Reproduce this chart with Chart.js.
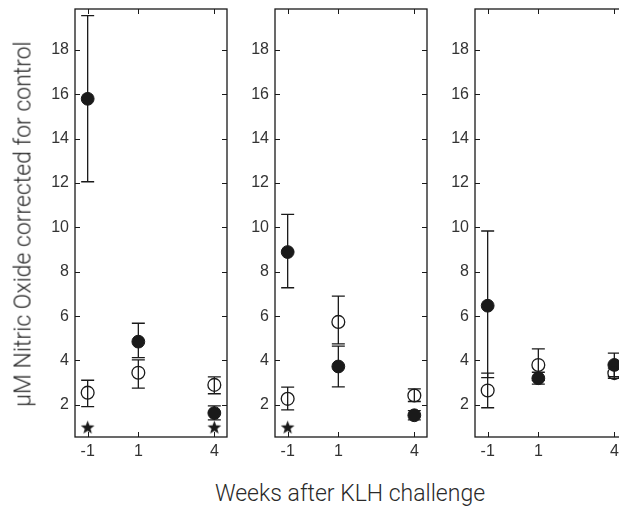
<!DOCTYPE html>
<html>
<head>
<meta charset="utf-8">
<script src="https://cdn.jsdelivr.net/npm/chart.js@4.4.1/dist/chart.umd.min.js"></script>
<style>
  html, body { margin:0; padding:0; width:619px; height:506px; overflow:hidden; background:#fff; }
  canvas { position:absolute; top:0; }
  .title { position:absolute; font-family:'Roboto','Liberation Sans',Arial,sans-serif; font-weight:300; font-size:23px; line-height:23px; color:#2a2a2a; white-space:nowrap; }
  #xtitle { left:350px; top:482px; transform:translateX(-50%); }
  #ytitle { left:23px; top:224px; transform:translate(-50%,-50%) rotate(-90deg); }
</style>
</head>
<body>
<canvas id="c1" width="212" height="470" style="left:30px"></canvas>
<canvas id="c2" width="212" height="470" style="left:230px"></canvas>
<canvas id="c3" width="212" height="470" style="left:430px"></canvas>
<div class="title" id="ytitle">µM Nitric Oxide corrected for control</div>
<div class="title" id="xtitle">Weeks after KLH challenge</div>
<script>
// ---- data ----
const weeks = [-1, 1, 4];
const xTicks = [-1, 1, 4];
const yTicks = [2, 4, 6, 8, 10, 12, 14, 16, 18];

// panel 1
const filled1   = [15.8, 4.85, 1.63];
const filled1Hi = [19.55, 5.68, 1.95];
const filled1Lo = [12.06, 4.13, 1.32];
const open1     = [2.55, 3.45, 2.9];
const open1Hi   = [3.11, 4.03, 3.26];
const open1Lo   = [1.92, 2.75, 2.5];
const star1     = [1.0, null, 1.0];

// panel 2
const filled2   = [8.89, 3.73, 1.53];
const filled2Hi = [10.59, 4.65, 1.74];
const filled2Lo = [7.28, 2.81, 1.32];
const open2     = [2.27, 5.74, 2.42];
const open2Hi   = [2.8, 6.9, 2.72];
const open2Lo   = [1.77, 4.75, 2.15];
const star2     = [1.0, null, null];

// panel 3
const filled3   = [6.47, 3.2, 3.8];
const filled3Hi = [9.84, 3.47, 4.33];
const filled3Lo = [3.23, 2.93, 3.27];
const open3     = [2.65, 3.8, 3.43];
const open3Hi   = [3.43, 4.52, 3.66];
const open3Lo   = [1.87, 3.1, 3.2];
const star3     = [null, null, null];

// ---- rendering ----
const INK = '#1a1a1a';
Chart.defaults.font.family = "'Liberation Sans', Arial, sans-serif";
Chart.defaults.font.size = 16;
Chart.defaults.color = '#333';

function makeStar(r) {
  const s = Math.ceil(r * 2 + 2);
  const c = document.createElement('canvas');
  c.width = s; c.height = s;
  const ctx = c.getContext('2d');
  ctx.translate(s / 2, s / 2 + r * 0.1);
  ctx.beginPath();
  for (let i = 0; i < 10; i++) {
    const rad = i % 2 ? r * 0.42 : r;
    const a = -Math.PI / 2 + i * Math.PI / 5;
    ctx.lineTo(rad * Math.cos(a), rad * Math.sin(a));
  }
  ctx.closePath();
  ctx.fillStyle = INK;
  ctx.fill();
  return c;
}
const starImg = makeStar(7.2);

const pts = arr => weeks.map((w, i) => ({ x: w, y: arr[i] })).filter(p => p.y !== null);

const framePlugin = {
  id: 'frameErr',
  beforeDatasetsDraw(chart) {
    const ctx = chart.ctx, xs = chart.scales.x, ys = chart.scales.y;
    ctx.save();
    ctx.strokeStyle = INK;
    ctx.lineWidth = 1.3;
    chart.data.datasets.forEach(ds => {
      if (!ds.errHi) return;
      weeks.forEach((w, i) => {
        const hi = ds.errHi[i], lo = ds.errLo[i];
        if (hi == null) return;
        const px = xs.getPixelForValue(w);
        const ph = ys.getPixelForValue(hi), pl = ys.getPixelForValue(lo);
        ctx.beginPath();
        ctx.moveTo(px, ph); ctx.lineTo(px, pl);
        ctx.moveTo(px - 6.5, ph); ctx.lineTo(px + 6.5, ph);
        ctx.moveTo(px - 6.5, pl); ctx.lineTo(px + 6.5, pl);
        ctx.stroke();
      });
    });
    ctx.restore();
  },
  afterDraw(chart) {
    const ctx = chart.ctx, a = chart.chartArea, xs = chart.scales.x, ys = chart.scales.y;
    ctx.save();
    ctx.strokeStyle = INK;
    ctx.lineWidth = 1.3;
    ctx.strokeRect(a.left, a.top, a.right - a.left, a.bottom - a.top);
    ctx.lineWidth = 1;
    ctx.beginPath();
    xs.ticks.forEach(t => {
      const px = Math.round(xs.getPixelForValue(t.value)) + 0.5;
      ctx.moveTo(px, a.bottom); ctx.lineTo(px, a.bottom - 5);
      ctx.moveTo(px, a.top); ctx.lineTo(px, a.top + 5);
    });
    ys.ticks.forEach(t => {
      const py = Math.round(ys.getPixelForValue(t.value)) + 0.5;
      ctx.moveTo(a.left, py); ctx.lineTo(a.left + 5, py);
      ctx.moveTo(a.right, py); ctx.lineTo(a.right - 5, py);
    });
    ctx.stroke();
    ctx.restore();
  }
};

function noPad(s) { s.paddingTop = 0; s.paddingBottom = 0; s.paddingLeft = 0; s.paddingRight = 0; }

function makePanel(id, filled, fHi, fLo, open, oHi, oLo, star) {
  new Chart(document.getElementById(id), {
    type: 'scatter',
    data: {
      datasets: [
        { label: 'open', data: pts(open), errHi: oHi, errLo: oLo,
          pointStyle: 'circle', pointRadius: 6.4, pointBorderWidth: 1.3,
          pointBackgroundColor: 'rgba(0,0,0,0)', pointBorderColor: INK },
        { label: 'filled', data: pts(filled), errHi: fHi, errLo: fLo,
          pointStyle: 'circle', pointRadius: 6.4, pointBorderWidth: 1,
          pointBackgroundColor: INK, pointBorderColor: INK },
        { label: 'star', data: pts(star),
          pointStyle: starImg, pointRadius: 7 }
      ]
    },
    options: {
      responsive: false,
      animation: false,
      devicePixelRatio: 1,
      layout: { padding: { left: 0, top: 9, right: 15, bottom: 0 } },
      plugins: { legend: { display: false }, tooltip: { enabled: false } },
      scales: {
        x: {
          type: 'linear', min: -1.5, max: 4.5,
          afterBuildTicks: s => { s.ticks = xTicks.map(v => ({ value: v })); },
          afterFit: s => { s.height = 33; noPad(s); },
          grid: { display: false, drawTicks: false },
          border: { display: false },
          ticks: { padding: 5, maxRotation: 0, autoSkip: false, color: '#333' }
        },
        y: {
          type: 'linear', min: 0.55, max: 19.85,
          afterBuildTicks: s => { s.ticks = yTicks.map(v => ({ value: v })); },
          afterFit: s => { s.width = 45; noPad(s); },
          grid: { display: false, drawTicks: false },
          border: { display: false },
          ticks: { padding: 6, autoSkip: false, color: '#333' }
        }
      }
    },
    plugins: [framePlugin]
  });
}

makePanel('c1', filled1, filled1Hi, filled1Lo, open1, open1Hi, open1Lo, star1);
makePanel('c2', filled2, filled2Hi, filled2Lo, open2, open2Hi, open2Lo, star2);
makePanel('c3', filled3, filled3Hi, filled3Lo, open3, open3Hi, open3Lo, star3);
</script>
</body>
</html>
